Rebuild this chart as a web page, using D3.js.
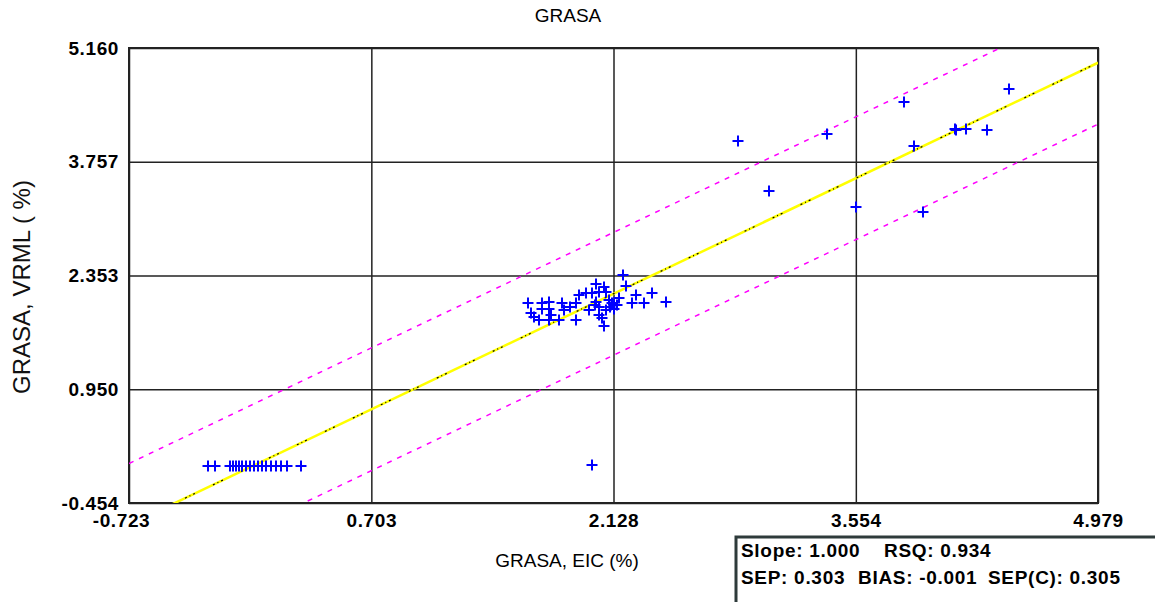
<!DOCTYPE html>
<html>
<head>
<meta charset="utf-8">
<script src="https://cdn.jsdelivr.net/npm/d3@7"></script>
<title>GRASA</title>
<style>
body { margin: 0; background: #fff; }
svg { font-family: "Liberation Sans", Arial, sans-serif; }
.tick text { font-weight: bold; font-size: 19px; letter-spacing: 0.6px; fill: #000; }
.grid line { stroke: #222; stroke-width: 1.5; }
.grid path { display: none; }
.stats { font-size: 19px; font-weight: bold; letter-spacing: 0.7px; white-space: pre; }
</style>
</head>
<body>
<svg class="chart"></svg>
<script>
// tick values printed on the axes
let xTicks = [-0.723, 0.703, 2.128, 3.554, 4.979]
let yTicks = [-0.454, 0.950, 2.353, 3.757, 5.160]

// reference (EIC) and predicted (VRML) values
let refValues = [
  // low group
  -0.259, -0.218, -0.130, -0.112, -0.094, -0.077, -0.059, -0.036, -0.012, 0.012,
  0.035, 0.058, 0.082, 0.111, 0.141, 0.170, 0.205, 0.288, 2.003,
  // middle group
  2.186, 2.027, 2.074, 2.203, 1.968, 2.045, 2.086, 1.927, 2.003, 2.262,
  2.356, 2.438, 1.622, 1.710, 1.751, 1.827, 1.909, 2.027, 2.121, 2.150,
  2.239, 2.309, 1.645, 1.663, 1.710, 1.751, 1.839, 2.045, 2.086, 1.692,
  1.751, 1.810, 1.909, 2.045, 2.062, 2.074, 2.133, 2.021, 1.763, 2.103,
  2.162, 2.110, 2.128, 1.985, 1.870,
  // high group
  2.861, 3.044, 3.384, 3.555, 3.837, 3.896, 3.948, 4.137, 4.145, 4.201,
  4.325, 4.454
]
let predValues = [
  0.006, 0.006, 0.006, 0.006, 0.006, 0.006, 0.006, 0.006, 0.006, 0.006,
  0.006, 0.006, 0.006, 0.006, 0.006, 0.006, 0.006, 0.006, 0.010,
  2.354, 2.243, 2.206, 2.218, 2.132, 2.144, 2.144, 2.107, 2.132, 2.107,
  2.132, 2.021, 2.008, 2.008, 2.021, 2.008, 2.008, 2.021, 2.008, 1.983,
  2.008, 2.008, 1.885, 1.835, 1.934, 1.934, 1.922, 1.959, 1.922, 1.798,
  1.798, 1.798, 1.798, 1.860, 1.823, 1.736, 1.983, 1.983, 1.860, 2.045,
  2.070, 1.959, 1.934, 1.922, 1.960,
  4.011, 3.393, 4.097, 3.200, 4.493, 3.949, 3.133, 4.159, 4.150, 4.159,
  4.147, 4.653
]

// statistics of the fit
let slope = 1.000
let rsq = 0.934
let sep = 0.303
let bias = -0.001
let sepc = 0.305

window.onload = function () {
  let w = 1155, h = 602
  let left = 129, top = 48, right = 1098, bottom = 503
  let svg = d3.select('.chart').attr('width', w).attr('height', h)

  let xScale = d3.scaleLinear().domain([xTicks[0], xTicks[4]]).range([left, right])
  let yScale = d3.scaleLinear().domain([yTicks[0], yTicks[4]]).range([bottom, top])
  let fmt = function (d) { return d.toFixed(3) }

  // grid lines
  svg.append('g').classed('grid', true)
    .attr('transform', 'translate(0,' + bottom + ')')
    .call(d3.axisBottom(xScale).tickValues(xTicks).tickSize(-(bottom - top)).tickFormat(''))
  svg.append('g').classed('grid', true)
    .attr('transform', 'translate(' + left + ',0)')
    .call(d3.axisLeft(yScale).tickValues(yTicks).tickSize(-(right - left)).tickFormat(''))

  // tick labels
  let xAxis = svg.append('g')
    .attr('transform', 'translate(0,' + (bottom + 7) + ')')
    .call(d3.axisBottom(xScale).tickValues(xTicks).tickSize(0).tickFormat(fmt))
  xAxis.select('.domain').remove()
  xAxis.selectAll('.tick').filter(function (d, i) { return i === 0 })
    .select('text').attr('dx', -8)
  let yAxis = svg.append('g')
    .attr('transform', 'translate(' + (left - 7) + ',0)')
    .call(d3.axisLeft(yScale).tickValues(yTicks).tickSize(0).tickFormat(fmt))
  yAxis.select('.domain').remove()

  // frame
  svg.append('rect').attr('x', left).attr('y', top)
    .attr('width', right - left).attr('height', bottom - top)
    .style('fill', 'none').style('stroke', '#222').style('stroke-width', 2)

  svg.append('clipPath').attr('id', 'plotClip')
    .append('rect').attr('x', left).attr('y', top)
    .attr('width', right - left).attr('height', bottom - top)

  let lines = svg.append('g').attr('clip-path', 'url(#plotClip)')
  let xs = xScale.domain()
  function fitLine(offset) {
    return d3.line()
      .x(function (d) { return xScale(d) })
      .y(function (d) { return yScale(slope * d + bias + offset) })(xs)
  }
  // limits: +/- 2.5 SEP
  lines.append('path').attr('d', fitLine(2.5 * sep))
    .style('fill', 'none').style('stroke', '#ff00ff').style('stroke-width', 1.5)
    .style('stroke-dasharray', '5,6')
  lines.append('path').attr('d', fitLine(-2.5 * sep))
    .style('fill', 'none').style('stroke', '#ff00ff').style('stroke-width', 1.5)
    .style('stroke-dasharray', '5,6')
  lines.append('path').attr('d', fitLine(0))
    .style('fill', 'none').style('stroke', '#ffff00').style('stroke-width', 2.5)
  lines.append('path').attr('d', fitLine(0))
    .style('fill', 'none').style('stroke', '#000').style('stroke-width', 1.2)
    .style('stroke-dasharray', '2,3,1,3,2,20')

  // points as crosses
  let pts = refValues.map(function (d, i) { return { x: d, y: predValues[i] } })
  let arm = 5.5
  lines.selectAll('path.pt').data(pts).enter().append('path')
    .classed('pt', true)
    .attr('d', function (d) {
      let cx = Math.round(xScale(d.x)), cy = Math.round(yScale(d.y))
      return 'M' + (cx - arm) + ',' + cy + 'H' + (cx + arm) +
        'M' + cx + ',' + (cy - arm) + 'V' + (cy + arm)
    })
    .style('stroke', '#0000ff').style('stroke-width', 2).style('fill', 'none')

  // titles
  svg.append('text').attr('x', 568).attr('y', 22).attr('text-anchor', 'middle')
    .style('font-size', '19px').text('GRASA')
  svg.append('text').attr('x', 567).attr('y', 567).attr('text-anchor', 'middle')
    .style('font-size', '19px').text('GRASA, EIC (%)')
  svg.append('text').attr('transform', 'translate(30,' + 287 + ') rotate(-90)')
    .attr('text-anchor', 'middle').style('font-size', '24px').style('fill', '#111')
    .text('GRASA, VRML ( %)')

  // statistics box
  svg.append('rect').attr('x', 736).attr('y', 537).attr('width', 440).attr('height', 90)
    .style('fill', '#fff').style('stroke', '#2e3b3b').style('stroke-width', 3)
  let line1 = svg.append('text').classed('stats', true).attr('y', 557)
  line1.append('tspan').attr('x', 741).text('Slope: ' + fmt(slope))
  line1.append('tspan').attr('x', 884).text('RSQ: ' + fmt(rsq))
  let line2 = svg.append('text').classed('stats', true).attr('y', 584)
  line2.append('tspan').attr('x', 741).text('SEP: ' + fmt(sep))
  line2.append('tspan').attr('x', 858).text('BIAS: ' + fmt(bias))
  line2.append('tspan').attr('x', 988).text('SEP(C): ' + fmt(sepc))
}
</script>
</body>
</html>
